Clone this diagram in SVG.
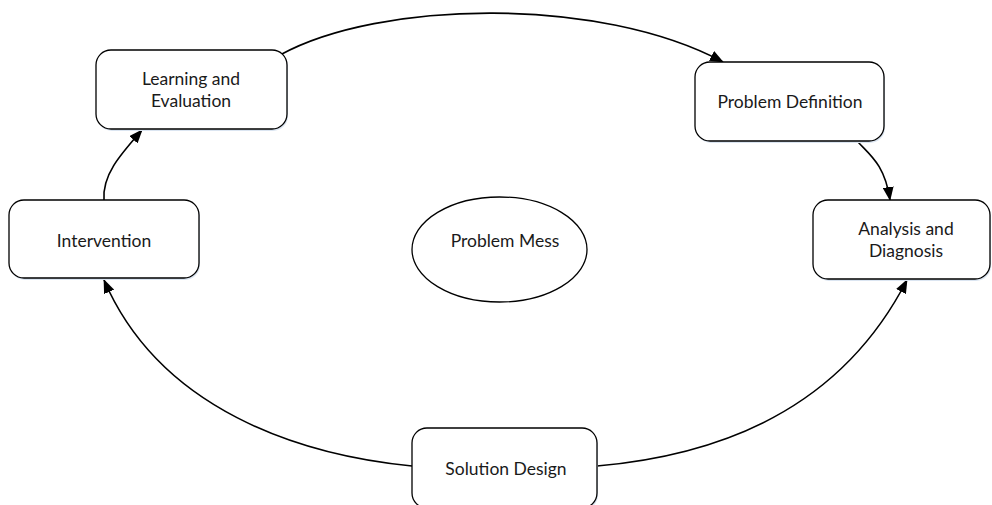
<svg xmlns="http://www.w3.org/2000/svg" width="992" height="505" viewBox="0 0 992 505">
  <style>
    .box { fill: #ffffff; stroke: #000000; stroke-width: 1.3; }
    .shade { fill: #dbe5f1; }
    .label { font-family: "Lato", "Liberation Sans", sans-serif; font-size: 17.5px; fill: #1a1a1a; text-anchor: middle; }
    .link { fill: none; stroke: #000000; stroke-width: 1.6; marker-end: url(#arrow); }
  </style>
  <defs>
    <marker id="arrow" viewBox="0 0 14 11" refX="13" refY="5.5" markerWidth="14" markerHeight="11" markerUnits="userSpaceOnUse" orient="auto">
      <path d="M0,0 L14,5.5 L0,11 Z" fill="#000000"/>
    </marker>
  </defs>
  <rect width="992" height="505" fill="#ffffff"/>

  <!-- cycle connectors -->
  <g id="connectors">
    <path class="link" d="M280,55 C380,0 600,-4 723,62"/>
    <path class="link" d="M858,142 C870,155 885,165 890,200"/>
    <path class="link" d="M104,200 C102,175 120,155 142,130"/>
    <path class="link" d="M412,466 C300,455 160,410 104,280"/>
    <path class="link" d="M597,466 C720,455 840,410 907,280"/>
  </g>

  <g id="learning-evaluation">
    <rect class="shade" x="97" y="52" width="191" height="79" rx="15"/>
    <rect class="box" x="96" y="50" width="191" height="79" rx="15"/>
    <text class="label" x="191" y="85">Learning and</text>
    <text class="label" x="191" y="107">Evaluation</text>
  </g>

  <g id="problem-definition">
    <rect class="shade" x="696" y="64" width="189" height="79" rx="15"/>
    <rect class="box" x="695" y="62" width="189" height="79" rx="15"/>
    <text class="label" x="790" y="108">Problem Definition</text>
  </g>

  <g id="analysis-diagnosis">
    <rect class="shade" x="814" y="202" width="177" height="79" rx="15"/>
    <rect class="box" x="813" y="200" width="177" height="79" rx="15"/>
    <text class="label" x="906" y="235">Analysis and</text>
    <text class="label" x="906" y="257">Diagnosis</text>
  </g>

  <g id="intervention">
    <rect class="shade" x="10" y="202" width="190" height="78" rx="15"/>
    <rect class="box" x="9" y="200" width="190" height="78" rx="15"/>
    <text class="label" x="104" y="247">Intervention</text>
  </g>

  <g id="solution-design">
    <rect class="shade" x="413" y="430" width="185" height="80" rx="15"/>
    <rect class="box" x="412" y="428" width="185" height="80" rx="15"/>
    <text class="label" x="506" y="475">Solution Design</text>
  </g>

  <g id="problem-mess">
    <ellipse class="box" cx="499.5" cy="249.5" rx="87.5" ry="52.5"/>
    <text class="label" x="505" y="247">Problem Mess</text>
  </g>
</svg>
